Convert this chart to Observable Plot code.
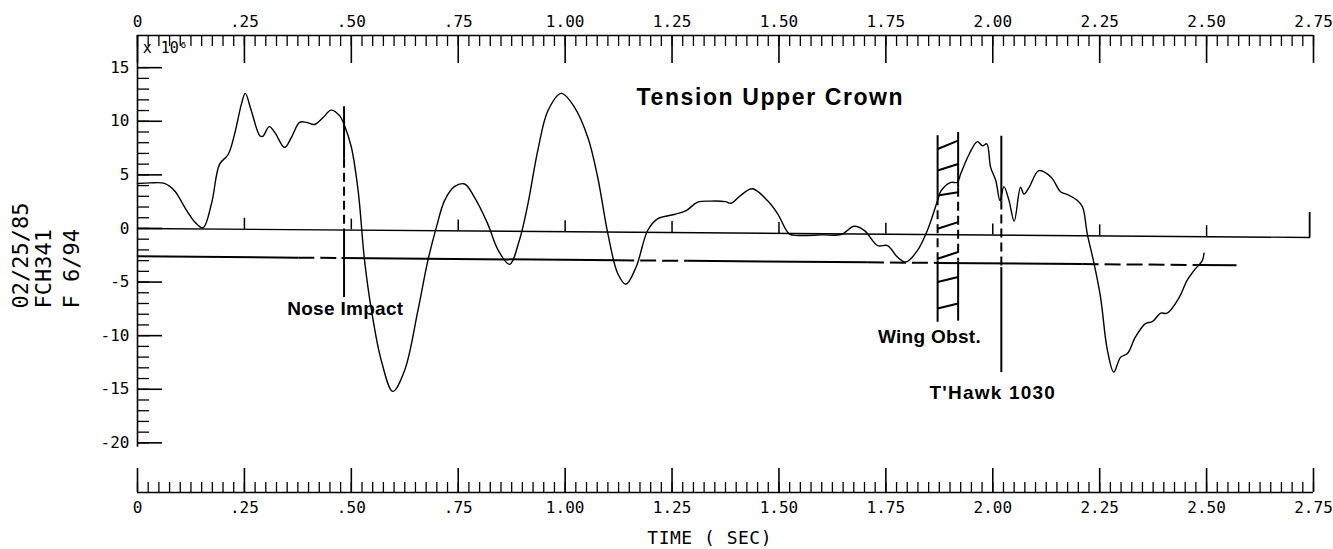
<!DOCTYPE html>
<html><head><meta charset="utf-8">
<script src="https://cdn.jsdelivr.net/npm/d3@7"></script>
<script src="https://cdn.jsdelivr.net/npm/@observablehq/plot@0.6"></script>
<style>body{margin:0;background:#fff}</style>
</head><body><div id="chart"></div>
<script>
// ---- data (time in s, tension x10^6) ----
const timeSec = [0.000,0.030,0.063,0.087,0.110,0.134,0.153,0.173,0.192,0.212,0.227,0.243,0.252,0.266,0.286,0.293,0.308,0.321,0.344,0.360,0.379,0.395,0.414,0.434,0.453,0.473,0.484,0.500,0.516,0.531,0.547,0.570,0.597,0.625,0.656,0.679,0.699,0.718,0.741,0.765,0.788,0.819,0.843,0.870,0.893,0.913,0.936,0.960,0.991,1.022,1.053,1.076,1.100,1.123,1.142,1.166,1.193,1.216,1.255,1.283,1.310,1.340,1.375,1.388,1.410,1.438,1.473,1.497,1.524,1.545,1.600,1.645,1.676,1.700,1.731,1.754,1.777,1.797,1.824,1.847,1.871,1.879,1.902,1.917,1.925,1.945,1.964,1.976,1.986,1.995,2.007,2.017,2.026,2.038,2.050,2.065,2.073,2.085,2.108,2.136,2.159,2.175,2.198,2.210,2.221,2.237,2.252,2.268,2.283,2.299,2.315,2.334,2.357,2.373,2.393,2.408,2.435,2.455,2.474,2.490,2.494];
const tension = [4.2,4.25,4.2,3.5,2.0,0.6,0.05,2.3,6.0,6.9,8.8,11.6,12.6,11.0,8.65,8.6,9.5,8.96,7.56,8.5,9.9,9.9,9.7,10.35,11.04,10.5,9.6,7.6,3.5,-3.0,-7.6,-12.3,-15.2,-13.2,-7.6,-3.0,0.12,2.6,3.9,4.15,2.9,0.43,-2.0,-3.35,-1.1,2.3,7.26,11.0,12.6,11.3,8.5,4.8,-0.5,-4.2,-5.2,-3.6,-0.19,0.9,1.3,1.67,2.45,2.55,2.5,2.35,3.07,3.7,2.6,1.37,-0.5,-0.65,-0.6,-0.56,0.2,-0.2,-1.6,-1.6,-2.67,-3.13,-2.05,-0.19,2.6,3.5,4.3,4.3,5.1,6.95,8.1,7.7,7.9,5.7,4.47,2.6,3.9,2.6,0.68,3.84,3.2,3.84,5.4,4.8,3.4,3.16,2.6,2.0,-0.5,-3.3,-6.4,-11.35,-13.4,-12.0,-11.66,-10.1,-8.87,-8.7,-7.9,-7.9,-6.5,-4.8,-3.75,-3.0,-2.3];

const xTickValues = [0,0.25,0.5,0.75,1,1.25,1.5,1.75,2,2.25,2.5,2.75];
const xTickLabels = ["0",".25",".50",".75","1.00","1.25","1.50","1.75","2.00","2.25","2.50","2.75"];
const yTickValues = [15,10,5,0,-5,-10,-15,-20];
const yTickLabels = ["15","10","5","0","-5","-10","-15","-20"];
const sideNotes = ["02/25/85","FCH341","F 6/94"];

// reference lines (slightly tilted in the scan)
const zeroLineT = [0, 2.741];
const zeroLineV = [0, -0.84];
const refLineT = [0, 2.57];
const refLineV = [-2.6, -3.44];
const refSolidRanges = [[0,0.376],[0.477,1.124],[1.287,1.708],[1.87,2.21],[2.48,2.57]];
const refDashRanges = [[0.376,0.477],[1.124,1.287],[1.708,1.87],[2.21,2.48]];

// event markers
const noseT = 0.483;
const wingLeftT = 1.871, wingRightT = 1.919;
const hawkT = 2.02;
const markerSolid = [[noseT,11.4,6.5],[noseT,0,-6.4],[wingLeftT,8.7,3.0],[wingLeftT,-3.0,-8.7],[wingRightT,9.0,3.8],[wingRightT,-3.0,-8.6],[hawkT,8.65,2.6],[hawkT,-3.6,-13.4]];
const markerDashed = [[noseT,6.5,0],[wingLeftT,3.0,-3.0],[wingRightT,3.8,-3.0],[hawkT,2.6,-3.6]];
const hatchLeftV = [7.41,5.40,3.07,-0.03,-2.82,-5.0,-7.47];
const hatchRightV = [8.19,6.02,3.38,0.59,-2.2,-4.53,-7.0];

const annotations = [
  {t:1.48, v:12.25, text:"Tension Upper Crown", size:23, ls:1.6},
  {t:0.486, v:-7.55, text:"Nose Impact", size:19, ls:0.3},
  {t:1.852, v:-10.14, text:"Wing Obst.", size:19, ls:0.3},
  {t:2.0, v:-15.35, text:"T'Hawk 1030", size:19, ls:1.2}
];

// ---- layout ----
const W = 1333, H = 549;
const mt = 35, mb = 57, ml = 137, mr = 20;
const yTop = 18.0, yBot = -24.63;
const uy = (yTop - yBot) / (H - mt - mb);   // data units per px (y)
const ux = 2.75 / (W - ml - mr);             // data units per px (x)

const curve = timeSec.map((t, i) => ({t, v: tension[i]}));
const xTicks = xTickValues.map((t, i) => ({t, label: xTickLabels[i]}));
const yTicks = yTickValues.map((v, i) => ({v, label: yTickLabels[i]}));
const minorX = d3.range(0, 111).map(i => i * 0.025);
const minorY = d3.range(-20, 16);
const zeroAt = t => zeroLineV[0] + (zeroLineV[1] - zeroLineV[0]) * (t - zeroLineT[0]) / (zeroLineT[1] - zeroLineT[0]);
const refAt = t => refLineV[0] + (refLineV[1] - refLineV[0]) * (t - refLineT[0]) / (refLineT[1] - refLineT[0]);
const seg = r => ({x1: r[0], x2: r[1], y1: refAt(r[0]), y2: refAt(r[1])});
const innerTicks = xTickValues.filter(t => t > 0 && t < 2.75);
const hatches = hatchLeftV.map((v, i) => ({x1: wingLeftT, y1: v, x2: wingRightT, y2: hatchRightV[i]}));

const mono = "DejaVu Sans Mono";
const bold = "Liberation Sans";

const chart = Plot.plot({
  width: W, height: H,
  marginLeft: ml, marginRight: mr, marginTop: mt, marginBottom: mb,
  x: {domain: [0, 2.75], axis: null},
  y: {domain: [yBot, yTop], axis: null},
  style: {background: "#fff", color: "#000"},
  marks: [
    // top axis
    Plot.ruleY([yTop], {x1: 0, x2: 2.75, stroke: "#000", strokeWidth: 1.6}),
    Plot.ruleX(minorX, {x: d => d, y1: yTop, y2: yTop - 11 * uy, stroke: "#000", strokeWidth: 1.3}),
    Plot.ruleX(xTicks, {x: "t", y1: yTop, y2: yTop - 28 * uy, stroke: "#000", strokeWidth: 1.6}),
    Plot.text(xTicks, {x: "t", y: yTop, dy: -14, text: "label", fontFamily: mono, fontSize: 16, lineAnchor: "middle"}),
    // bottom axis
    Plot.ruleY([yBot], {x1: 0, x2: 2.75, stroke: "#000", strokeWidth: 1.6}),
    Plot.ruleX(minorX, {x: d => d, y1: yBot, y2: yBot + 10 * uy, stroke: "#000", strokeWidth: 1.3}),
    Plot.ruleX(xTicks, {x: "t", y1: yBot, y2: yBot + 24 * uy, stroke: "#000", strokeWidth: 1.6}),
    Plot.text(xTicks, {x: "t", y: yBot, dy: 15, text: "label", fontFamily: mono, fontSize: 16, lineAnchor: "middle"}),
    Plot.text(["TIME ( SEC)"], {x: 1.338, y: yBot, dy: 46, text: d => d, fontFamily: mono, fontSize: 18, lineAnchor: "middle"}),
    // y axis
    Plot.ruleX([0], {y1: -20.4, y2: yTop, stroke: "#000", strokeWidth: 1.6}),
    Plot.ruleY(minorY, {y: d => d, x1: 0, x2: 12 * ux, stroke: "#000", strokeWidth: 1.3}),
    Plot.ruleY(yTicks, {y: "v", x1: 0, x2: 25 * ux, stroke: "#000", strokeWidth: 1.6}),
    Plot.text(yTicks, {x: 0, y: "v", dx: -8, text: "label", textAnchor: "end", fontFamily: mono, fontSize: 16, lineAnchor: "middle"}),
    Plot.text(["x 10\u2076"], {x: 0.065, y: 16.8, text: d => d, fontFamily: mono, fontSize: 15, lineAnchor: "middle"}),
    // side notes
    Plot.text(sideNotes, {x: 0, y: -7.46, text: d => d, rotate: -90, textAnchor: "start", lineAnchor: "middle", fontFamily: mono, fontSize: 22}),
    // zero line and its ticks
    Plot.line(zeroLineT.map((t, i) => ({t, v: zeroLineV[i]})), {x: "t", y: "v", stroke: "#000", strokeWidth: 1.4}),
    Plot.ruleX(innerTicks, {x: d => d, y1: d => zeroAt(d), y2: d => zeroAt(d) + 11 * uy, stroke: "#000", strokeWidth: 1.5}),
    Plot.ruleX([zeroLineT[1]], {x: d => d, y1: zeroLineV[1], y2: zeroLineV[1] + 25 * uy, stroke: "#000", strokeWidth: 1.8}),
    // reference level line
    Plot.link(refSolidRanges.map(seg), {x1: "x1", y1: "y1", x2: "x2", y2: "y2", stroke: "#000", strokeWidth: 2}),
    Plot.link(refDashRanges.map(seg), {x1: "x1", y1: "y1", x2: "x2", y2: "y2", stroke: "#000", strokeWidth: 2, strokeDasharray: "16,6"}),
    // event markers
    Plot.link(markerSolid, {x1: d => d[0], x2: d => d[0], y1: d => d[1], y2: d => d[2], stroke: "#000", strokeWidth: 2}),
    Plot.link(markerDashed, {x1: d => d[0], x2: d => d[0], y1: d => d[1], y2: d => d[2], stroke: "#000", strokeWidth: 2, strokeDasharray: "9,5"}),
    Plot.link(hatches, {x1: "x1", y1: "y1", x2: "x2", y2: "y2", stroke: "#000", strokeWidth: 2}),
    // the signal
    Plot.line(curve, {x: "t", y: "v", curve: "catmull-rom", stroke: "#000", strokeWidth: 1.4}),
    // annotations
    ...annotations.map(a => Plot.text([a], {x: "t", y: "v", text: "text", fontFamily: bold, fontWeight: "bold", fontSize: a.size, lineAnchor: "middle"}))
  ]
});
document.getElementById("chart").appendChild(chart);

// post-processing: per-label offsets and letter spacing
const svg = d3.select(chart);
const sideDx = [-117, -94, -66];
svg.selectAll("text").each(function() {
  const s = this.textContent;
  const i = sideNotes.indexOf(s);
  if (i >= 0) {
    const tr = this.getAttribute("transform") || "";
    this.setAttribute("transform", `translate(${sideDx[i]},0) ` + tr);
  }
  const a = annotations.find(a => a.text === s);
  if (a) this.style.letterSpacing = a.ls + "px";
  if (s === "TIME ( SEC)") this.style.letterSpacing = "0.5px";
});
</script>
</body></html>
